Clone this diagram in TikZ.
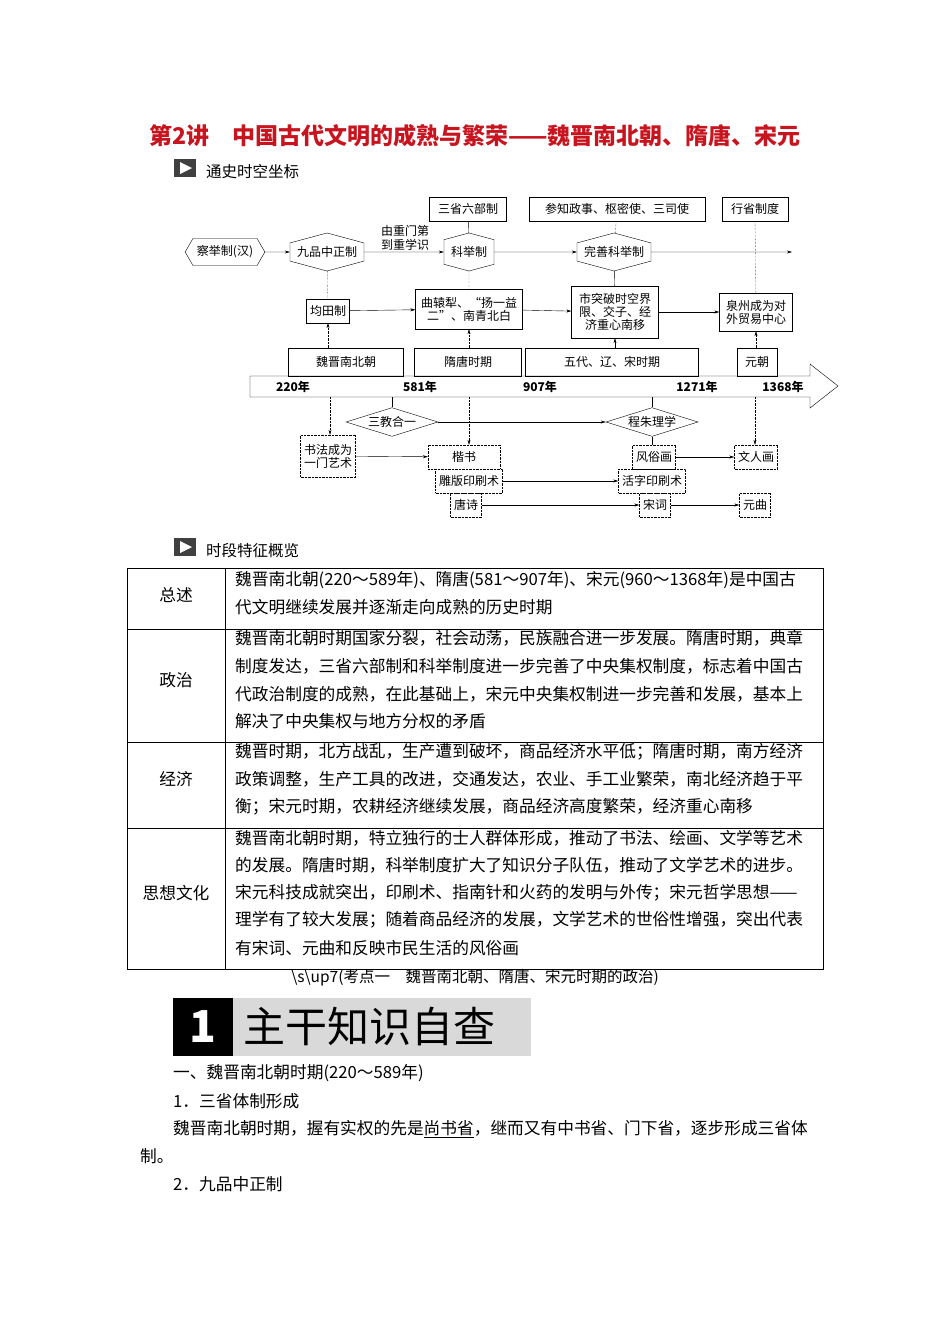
\documentclass[tikz,border=0pt]{standalone}
\usepackage{fontspec}
\setmainfont{Noto Sans CJK SC}
\usetikzlibrary{shapes.symbols,shapes.geometric,arrows.meta}
\definecolor{titlered}{RGB}{200,20,30}
\tikzset{
 x=1pt,y=-1pt,
 sm/.style={font=\fontsize{12}{13}\selectfont,inner sep=1pt,align=center},
 bx/.style={sm,draw,minimum height=24,inner sep=3.5pt},
 dbx/.style={bx,densely dotted},
 hexh/.style={sm,draw,shape=signal,signal to=east and west,signal pointer angle=120,minimum height=27,inner xsep=4pt},
 hexv/.style={sm,draw,shape=signal,signal to=north and south,signal pointer angle=150,minimum height=38,inner xsep=7pt},
 dia/.style={sm,draw,diamond,aspect=3.2,inner sep=1pt},
 ar/.style={-{Stealth[length=5pt,width=3pt]},thin},
 dl/.style={densely dotted,thin},
 body/.style={font=\fontsize{16.7}{18}\selectfont,anchor=west,inner sep=0},
}
\begin{document}
\begin{tikzpicture}
\useasboundingbox (0,0) rectangle (950,1344);
\fill[white] (0,0) rectangle (950,1344);
% title
\node[font=\fontsize{23}{25}\selectfont\bfseries,text=titlered] (title) at (475,136) {第2讲\quad 中国古代文明的成熟与繁荣——魏晋南北朝、隋唐、宋元};
\node[fill=black!75,minimum width=22,minimum height=18,inner sep=0] (ic1) at (185,168) {};
\fill[white] (180,162) -- (192,168) -- (180,174) -- cycle;
\node[body,font=\fontsize{15.5}{17}\selectfont] (h1) at (206,172) {通史时空坐标};
% top boxes
\node[bx,minimum width=77] (sls) at (468,209) {三省六部制};
\node[bx,minimum width=176] (czs) at (617,209) {参知政事、枢密使、三司使};
\node[bx,minimum width=66] (xsz) at (755,209) {行省制度};
% hexagons
\node[hexh] (cjz) at (225,252) {察举制(汉)};
\node[hexv] (jpz) at (327,252) {九品中正制};
\node[hexv] (kjz) at (469,252) {科举制};
\node[hexv] (wsk) at (614,252) {完善科举制};
\node[sm,font=\fontsize{12}{14}\selectfont] (yzm) at (405,238) {由重门第\\到重学识};
\coordinate (end1) at (792,252);
\draw[ar] (cjz) -- (jpz);
\draw[ar] (jpz) -- (kjz);
\draw[ar] (kjz) -- (wsk);
\draw[ar] (wsk) -- (end1);
% row 2
\node[bx] (jtz) at (328,311) {均田制};
\node[bx,text width=100,minimum height=40] (qyl) at (469,309) {曲辕犁、“扬一益\\二”、南青北白};
\node[bx,text width=80,minimum height=52] (stp) at (615,312) {市突破时空界\\限、交子、经\\济重心南移};
\node[bx,text width=66,minimum height=38] (qz) at (756,312) {泉州成为对\\外贸易中心};
\draw[ar] (jtz) -- (qyl);
\draw[ar] (qyl) -- (stp);
\draw[ar] (stp) -- (qz);
% period boxes
\node[sm,draw,minimum width=115,minimum height=28] (wj) at (346,362) {魏晋南北朝};
\node[sm,draw,minimum width=107,minimum height=28] (st) at (468,362) {隋唐时期};
\node[sm,draw,minimum width=173,minimum height=28] (wd) at (612,362) {五代、辽、宋时期};
\node[sm,draw,minimum width=40,minimum height=28] (yc) at (757,362) {元朝};
% timeline arrow
\draw (250,376) -- (810,376) -- (810,364) -- (838,386) -- (810,408) -- (810,397) -- (250,397) -- cycle;
\node[sm,font=\fontsize{12}{13}\selectfont\bfseries] (y1) at (293,387) {220年};
\node[sm,font=\fontsize{12}{13}\selectfont\bfseries] (y2) at (420,387) {581年};
\node[sm,font=\fontsize{12}{13}\selectfont\bfseries] (y3) at (540,387) {907年};
\node[sm,font=\fontsize{12}{13}\selectfont\bfseries] (y4) at (697,387) {1271年};
\node[sm,font=\fontsize{12}{13}\selectfont\bfseries] (y5) at (783,387) {1368年};
% vertical links
\draw[thin] (sls) -- (kjz);
\draw[dl] (czs) -- (wsk);
\draw[dl] (xsz) -- (qz);
\draw[dl] (jpz) -- (jtz);
\draw[dl] (kjz) -- (qyl);
\draw[thin] (wsk) -- (stp);
\draw[ar,dl] (wj.north -| jtz) -- (jtz);
\draw[ar,dl] (st.north -| qyl) -- (qyl);
\draw[ar] (wd.north -| stp) -- (stp);
\draw[ar,dl] (yc.north -| qz) -- (qz);
% bottom
\node[dia] (sjh) at (392,422) {三教合一};
\node[dia] (czl) at (652,422) {程朱理学};
\draw[ar] (sjh) -- (czl);
\draw[thin] (392,397) -- (sjh.north);
\draw[thin] (652,397) -- (czl.north);
\node[dbx,minimum height=42] (sf) at (328,456) {书法成为\\一门艺术};
\node[dbx,minimum width=72] (ks) at (464,457) {楷书};
\node[dbx] (fsh) at (654,457) {风俗画};
\node[dbx] (wrh) at (756,457) {文人画};
\node[dbx] (dbys) at (469,481) {雕版印刷术};
\node[dbx] (hzys) at (652,481) {活字印刷术};
\node[dbx] (ts) at (466,505) {唐诗};
\node[dbx] (sc) at (655,505) {宋词};
\node[dbx] (yq) at (755,505) {元曲};
\draw[ar,dl] (330,397) -- (sf.north -| 330,0);
\draw[ar,dl] (469,397) -- (ks.north -| 469,0);
\draw[ar,dl] (755,397) -- (wrh.north -| 755,0);
\draw[thin] (czl.south) -- (fsh.north -| czl);
\draw[ar] (sf) -- (ks);
\draw[ar] (fsh) -- (wrh);
\draw[ar] (dbys) -- (hzys);
\draw[ar] (ts) -- (sc);
\draw[ar] (sc) -- (yq);
% section 2
\node[fill=black!75,minimum width=22,minimum height=18,inner sep=0] (ic2) at (185,547) {};
\fill[white] (180,541) -- (192,547) -- (180,553) -- cycle;
\node[body,font=\fontsize{15.5}{17}\selectfont] (h2) at (206,551) {时段特征概览};
% table
\draw[thin] (127,568) rectangle (823,969);
\draw[thin] (225,568) -- (225,969);
\draw[thin] (127,629) -- (823,629);
\draw[thin] (127,742) -- (823,742);
\draw[thin] (127,828) -- (823,828);
\node[body,anchor=center] (c1) at (176,595) {总述};
\node[body,anchor=center] (c2) at (176,680) {政治};
\node[body,anchor=center] (c3) at (176,779) {经济};
\node[body,anchor=center] (c4) at (176,893) {思想文化};
\node[body] (t11) at (235,580) {魏晋南北朝(220～589年)、隋唐(581～907年)、宋元(960～1368年)是中国古};
\node[body] (t12) at (235,607) {代文明继续发展并逐渐走向成熟的历史时期};
\node[body] (t21) at (235,638) {魏晋南北朝时期国家分裂，社会动荡，民族融合进一步发展。隋唐时期，典章};
\node[body] (t22) at (235,666) {制度发达，三省六部制和科举制度进一步完善了中央集权制度，标志着中国古};
\node[body] (t23) at (235,694) {代政治制度的成熟，在此基础上，宋元中央集权制进一步完善和发展，基本上};
\node[body] (t24) at (235,721) {解决了中央集权与地方分权的矛盾};
\node[body] (t31) at (235,752) {魏晋时期，北方战乱，生产遭到破坏，商品经济水平低；隋唐时期，南方经济};
\node[body] (t32) at (235,779) {政策调整，生产工具的改进，交通发达，农业、手工业繁荣，南北经济趋于平};
\node[body] (t33) at (235,807) {衡；宋元时期，农耕经济继续发展，商品经济高度繁荣，经济重心南移};
\node[body] (t41) at (235,838) {魏晋南北朝时期，特立独行的士人群体形成，推动了书法、绘画、文学等艺术};
\node[body] (t42) at (235,865) {的发展。隋唐时期，科举制度扩大了知识分子队伍，推动了文学艺术的进步。};
\node[body] (t43) at (235,893) {宋元科技成就突出，印刷术、指南针和火药的发明与外传；宋元哲学思想——};
\node[body] (t44) at (235,920) {理学有了较大发展；随着商品经济的发展，文学艺术的世俗性增强，突出代表};
\node[body] (t45) at (235,948) {有宋词、元曲和反映市民生活的风俗画};
\node[body,anchor=center,font=\fontsize{15.5}{17}\selectfont] (up7) at (475,978) {\textbackslash s\textbackslash up7(考点一\quad 魏晋南北朝、隋唐、宋元时期的政治)};
% banner
\fill[black!15] (233,998) rectangle (531,1056);
\node[fill=black,text=white,minimum width=60,minimum height=58,inner sep=0,font=\fontsize{44}{44}\selectfont\bfseries] (one) at (203,1027) {1};
\node[font=\fontsize{42}{44}\selectfont,anchor=west,inner sep=0] (zg) at (243,1027) {主干知识自查};
\node[body] (l1) at (173,1073) {一、魏晋南北朝时期(220～589年)};
\node[body] (l2) at (173,1101) {1．三省体制形成};
\node[body] (l3) at (173,1129) {魏晋南北朝时期，握有实权的先是\underline{尚书省}，继而又有中书省、门下省，逐步形成三省体};
\node[body] (l4) at (140,1156) {制。};
\node[body] (l5) at (173,1184) {2．九品中正制};
\end{tikzpicture}
\end{document}
